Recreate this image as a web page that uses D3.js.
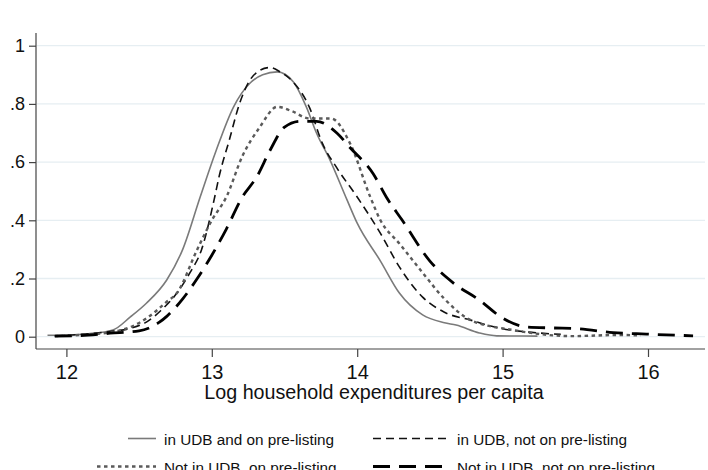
<!DOCTYPE html>
<html>
<head>
<meta charset="utf-8">
<script src="https://cdn.jsdelivr.net/npm/d3@7"></script>
<style>
  html, body { margin: 0; padding: 0; background: #fff; }
  svg { display: block; font-family: "Liberation Sans", Arial, Helvetica, sans-serif; }
</style>
</head>
<body>
<svg id="chart" width="708" height="470"></svg>
<script>
// Kernel density estimates of log household expenditures per capita, by group
// Each point: [log expenditure per capita, density]
const inUdbOnPre = [
  [11.87,0.005],[12.0,0.006],[12.15,0.010],[12.32,0.023],[12.44,0.068],[12.55,0.115],
  [12.69,0.195],[12.8,0.30],[12.92,0.48],[13.03,0.64],[13.15,0.79],[13.26,0.87],
  [13.35,0.90],[13.45,0.91],[13.56,0.876],[13.65,0.79],[13.72,0.70],[13.81,0.61],
  [13.93,0.47],[14.0,0.39],[14.16,0.26],[14.29,0.15],[14.45,0.075],[14.6,0.048],
  [14.68,0.04],[14.84,0.013],[14.96,0.003],[15.24,0.002]
];
const inUdbNotPre = [
  [11.92,0.003],[12.1,0.008],[12.3,0.018],[12.45,0.03],[12.55,0.05],[12.65,0.09],
  [12.76,0.15],[12.85,0.22],[12.93,0.30],[13.02,0.48],[13.05,0.55],[13.12,0.675],
  [13.19,0.80],[13.26,0.88],[13.33,0.915],[13.4,0.925],[13.47,0.91],[13.56,0.875],
  [13.67,0.79],[13.76,0.665],[13.86,0.58],[14.0,0.48],[14.16,0.355],[14.29,0.24],
  [14.45,0.136],[14.6,0.084],[14.78,0.057],[14.97,0.03],[15.2,0.015],[15.4,0.008]
];
const notUdbOnPre = [
  [11.92,0.002],[12.1,0.006],[12.3,0.015],[12.45,0.035],[12.57,0.07],[12.69,0.12],
  [12.76,0.15],[12.9,0.30],[13.0,0.40],[13.1,0.48],[13.21,0.62],[13.33,0.72],
  [13.45,0.79],[13.55,0.775],[13.67,0.75],[13.82,0.75],[13.95,0.665],[14.09,0.48],
  [14.16,0.40],[14.29,0.32],[14.45,0.22],[14.6,0.13],[14.78,0.057],[15.07,0.023],
  [15.48,0.002],[15.8,0.006],[15.95,0.004]
];
const notUdbNotPre = [
  [11.92,0.002],[12.1,0.004],[12.3,0.012],[12.5,0.02],[12.64,0.05],[12.69,0.07],
  [12.8,0.13],[12.9,0.20],[13.0,0.28],[13.1,0.37],[13.21,0.48],[13.31,0.55],
  [13.4,0.64],[13.5,0.72],[13.61,0.74],[13.72,0.74],[13.86,0.70],[13.95,0.65],
  [14.11,0.56],[14.2,0.48],[14.31,0.40],[14.5,0.26],[14.66,0.185],[14.84,0.126],
  [15.0,0.064],[15.17,0.033],[15.35,0.03],[15.53,0.027],[15.76,0.014],[15.99,0.009],
  [16.31,0.003]
];

const xTicks = [12, 13, 14, 15, 16];
const yTicks = [0, 0.2, 0.4, 0.6, 0.8, 1];
const yTickLabels = ["0", ".2", ".4", ".6", ".8", "1"];
const xTitle = "Log household expenditures per capita";
const seriesNames = [
  "in UDB and on pre-listing",
  "in UDB, not on pre-listing",
  "Not in UDB, on pre-listing",
  "Not in UDB, not on pre-listing"
];

const styles = [
  { color: "#7a7a7a", width: 1.6, dash: null },
  { color: "#111",    width: 1.6, dash: "8,5" },
  { color: "#5a5a5a", width: 2.4, dash: "3.5,3.5" },
  { color: "#000",    width: 2.8, dash: "17,9" }
];
const seriesData = [inUdbOnPre, inUdbNotPre, notUdbOnPre, notUdbNotPre];

const svg = d3.select("#chart");

const x = d3.scaleLinear().domain([12, 16]).range([66.4, 648]);
const y = d3.scaleLinear().domain([0, 1]).range([336.7, 45.7]);

const plotLeft = 36, plotRight = 705, plotTop = 33, plotBottom = 349;

// horizontal grid
svg.append("g")
  .selectAll("line")
  .data(yTicks)
  .join("line")
  .attr("x1", plotLeft + 1).attr("x2", plotRight)
  .attr("y1", d => y(d)).attr("y2", d => y(d))
  .attr("stroke", "#e6eef2").attr("stroke-width", 1.3);

// density curves
const line = d3.line()
  .x(d => x(d[0]))
  .y(d => y(d[1]))
  .curve(d3.curveMonotoneX);

svg.append("g")
  .selectAll("path")
  .data(seriesData)
  .join("path")
  .attr("d", d => line(d))
  .attr("fill", "none")
  .attr("stroke", (d, i) => styles[i].color)
  .attr("stroke-width", (d, i) => styles[i].width)
  .attr("stroke-dasharray", (d, i) => styles[i].dash)
  .attr("stroke-linejoin", "round");

// y axis
const yAxis = d3.axisLeft(y)
  .tickValues(yTicks)
  .tickFormat((d, i) => yTickLabels[i])
  .tickSize(7)
  .tickPadding(4)
  .tickSizeOuter(0);
const gy = svg.append("g").attr("transform", `translate(${plotLeft},0)`).call(yAxis);
gy.select(".domain").remove();
gy.append("line")
  .attr("x1", 0).attr("x2", 0).attr("y1", plotTop).attr("y2", plotBottom)
  .attr("stroke", "#444").attr("stroke-width", 1.2);
gy.selectAll(".tick line").attr("stroke", "#444").attr("stroke-width", 1.2);
gy.selectAll(".tick text")
  .attr("font-size", 18).attr("fill", "#111")
  .attr("font-family", "Liberation Sans, Arial, sans-serif");

// x axis
const xAxis = d3.axisBottom(x)
  .tickValues(xTicks)
  .tickFormat(d3.format("d"))
  .tickSize(8)
  .tickPadding(8)
  .tickSizeOuter(0);
const gx = svg.append("g").attr("transform", `translate(0,${plotBottom})`).call(xAxis);
gx.select(".domain").remove();
gx.append("line")
  .attr("x1", plotLeft).attr("x2", plotRight).attr("y1", 0).attr("y2", 0)
  .attr("stroke", "#444").attr("stroke-width", 1.2);
gx.selectAll(".tick line").attr("stroke", "#444").attr("stroke-width", 1.2);
gx.selectAll(".tick text")
  .attr("font-size", 20).attr("fill", "#111")
  .attr("font-family", "Liberation Sans, Arial, sans-serif");

svg.append("text")
  .attr("x", 374).attr("y", 399)
  .attr("text-anchor", "middle")
  .attr("font-size", 19.7).attr("fill", "#111")
  .text(xTitle);

// legend: two columns, two rows
const legendPos = [
  { kx1: 128, kx2: 156, tx: 164, row: 0 },
  { kx1: 373, kx2: 448, tx: 457, row: 0 },
  { kx1: 97, kx2: 156, tx: 164, row: 1 },
  { kx1: 373, kx2: 448, tx: 457, row: 1 }
];
const rowY = [438.5, 466.5];
const legend = svg.append("g");
seriesNames.forEach((name, i) => {
  const p = legendPos[i];
  const cy = rowY[p.row];
  legend.append("line")
    .attr("x1", p.kx1).attr("x2", p.kx2)
    .attr("y1", cy).attr("y2", cy)
    .attr("stroke", styles[i].color)
    .attr("stroke-width", styles[i].width)
    .attr("stroke-dasharray", styles[i].dash);
  legend.append("text")
    .attr("x", p.tx).attr("y", cy + 6.2)
    .attr("font-size", 15.3).attr("fill", "#111")
    .text(name);
});
</script>
</body>
</html>
